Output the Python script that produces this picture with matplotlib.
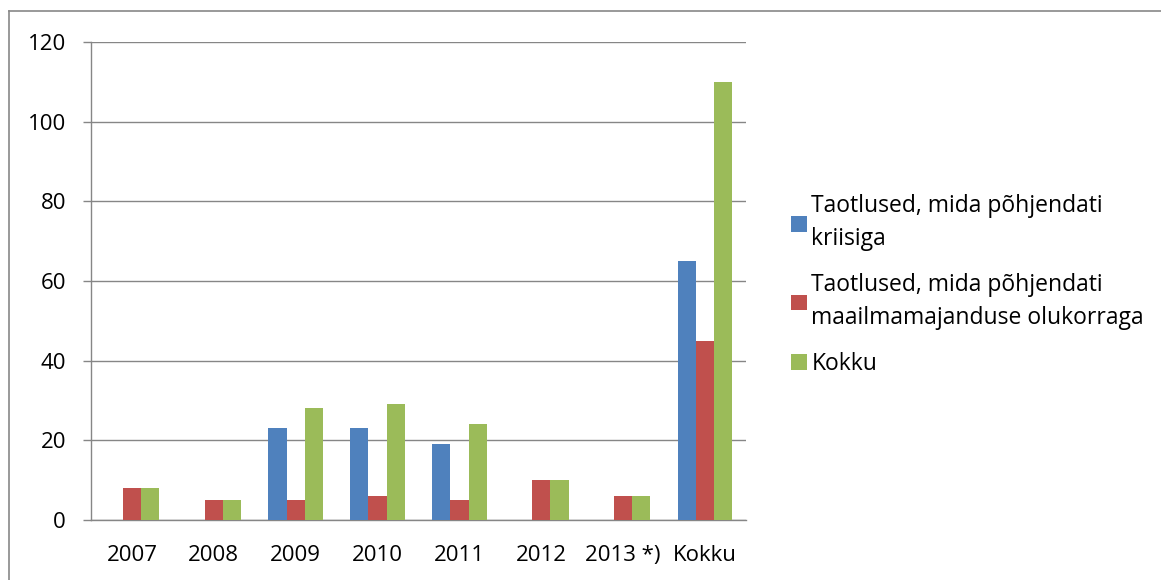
import matplotlib
matplotlib.use("Agg")
import matplotlib.pyplot as plt
import numpy as np
from matplotlib.lines import Line2D

categories = ["2007", "2008", "2009", "2010", "2011", "2012", "2013 *)", "Kokku"]
series_names = ["Taotlused, mida põhjendati\nkriisiga",
                "Taotlused, mida põhjendati\nmaailmamajanduse olukorraga",
                "Kokku"]
kriis = [0, 0, 23, 23, 19, 0, 0, 65]
maailm = [8, 5, 5, 6, 5, 10, 6, 45]
kokku = [8, 5, 28, 29, 24, 10, 6, 110]
colors = ["#4F81BD", "#C0504D", "#9BBB59"]
yticks = [0, 20, 40, 60, 80, 100, 120]

plt.rcParams['font.family'] = ['Open Sans', 'DejaVu Sans']
W, H = 1161, 580
fig = plt.figure(figsize=(W / 100, H / 100), dpi=100)
ax = fig.add_axes([91 / W, 1 - 520 / H, (746 - 91) / W, (520 - 42) / H])

x = np.arange(len(categories))
bw = 1 / 4.5
for i, (vals, name, c) in enumerate(zip([kriis, maailm, kokku], series_names, colors)):
    ax.bar(x + (i - 1) * bw, vals, width=bw, color=c, label=name, zorder=3)

ax.set_xlim(-0.5, len(categories) - 0.5)
ax.set_ylim(0, 120)
ax.set_yticks(yticks)
ax.set_xticks(x)
ax.set_xticklabels(categories)
gc = "#868686"
ax.grid(axis='y', color=gc, linewidth=1.0, zorder=0)
for s in ['top', 'right']:
    ax.spines[s].set_visible(False)
for s in ['left', 'bottom']:
    ax.spines[s].set_color(gc)
    ax.spines[s].set_linewidth(1.0)
ax.tick_params(axis='y', length=6, color=gc, width=1.0, labelsize=16, pad=12)
ax.tick_params(axis='x', length=0, labelsize=16, pad=18)

leg = ax.legend(loc='upper left', bbox_to_anchor=(782 / W, 1 - 185 / H),
                bbox_transform=fig.transFigure, frameon=False, fontsize=16.5,
                handlelength=0.68, handleheight=0.68, handletextpad=0.2,
                labelspacing=0.95, borderaxespad=0)
for t in leg.get_texts():
    t.set_linespacing(1.5)

fig.add_artist(Line2D([9 / W, 9 / W], [0, 1 - 11 / H], color="#888888", lw=1.2, transform=fig.transFigure))
fig.add_artist(Line2D([9 / W, 1], [1 - 11 / H, 1 - 11 / H], color="#888888", lw=1.2, transform=fig.transFigure))

fig.savefig("out.png", dpi=100)
